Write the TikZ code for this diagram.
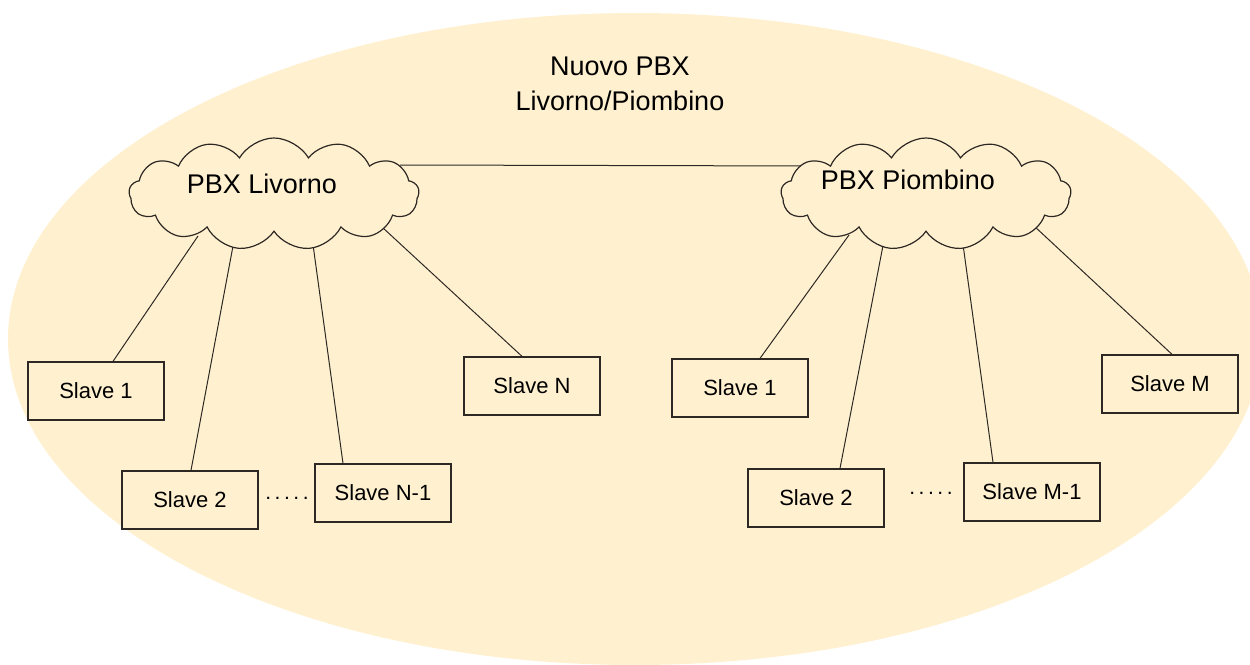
\documentclass[tikz,border=0pt]{standalone}
\usepackage{fontspec}
\setmainfont{Liberation Sans}
\usetikzlibrary{shapes.symbols}
\definecolor{bgfill}{RGB}{255,241,208}
\definecolor{ink}{RGB}{45,40,35}
\pgfdeclarelayer{bg}
\pgfdeclarelayer{wires}
\pgfsetlayers{bg,wires,main}
\begin{document}
\begin{tikzpicture}[x=1pt,y=-1pt,
  slavebox/.style={draw=ink, line width=1.3pt, fill=bgfill, minimum width=136pt, minimum height=58pt, inner sep=0pt, font=\fontsize{22}{24}\selectfont},
  pbxcloud/.style={cloud, cloud puffs=13, cloud puff arc=120, cloud ignores aspect, draw=ink, line width=1.2pt, fill=bgfill, minimum width=290pt, minimum height=112pt, inner sep=0pt},
  cloudtext/.style={font=\fontsize{27}{30}\selectfont},
  wire/.style={draw=ink, line width=1pt},
  dotstext/.style={font=\fontsize{21}{24}\selectfont, inner sep=0pt, anchor=base}]
\useasboundingbox (0,0) rectangle (1250,664);
\clip (0,0) rectangle (1250,664);
\begin{pgfonlayer}{bg}
  \fill[white] (0,0) rectangle (1250,664);
  \fill[bgfill] (635,339) ellipse [x radius=627, y radius=326];
\end{pgfonlayer}

\node[align=center, font=\fontsize{27}{35}\selectfont, inner sep=0pt] (title) at (620,84) {Nuovo PBX\\Livorno/Piombino};

\node[pbxcloud, label={[cloudtext, xshift=-12pt, yshift=10pt]center:PBX Livorno}] (lc) at (274,194) {};
\node[pbxcloud, label={[cloudtext, xshift=-18pt, yshift=14pt]center:PBX Piombino}] (rc) at (926,194) {};

\node[slavebox] (l1) at (96,391) {Slave 1};
\node[slavebox] (l2) at (190,500) {Slave 2};
\node[slavebox] (ln1) at (383,493) {Slave N-1};
\node[slavebox] (ln) at (532,386) {Slave N};
\node[slavebox] (r1) at (740,388) {Slave 1};
\node[slavebox] (r2) at (816,498) {Slave 2};
\node[slavebox] (rm1) at (1032,492) {Slave M-1};
\node[slavebox] (rm) at (1170,384) {Slave M};

\node[dotstext] (ldots) at (287,499) {.\,.\,.\,.\,.};
\node[dotstext] (rdots) at (931,494) {.\,.\,.\,.\,.};

\begin{pgfonlayer}{wires}
  \draw[wire] ([shift={(126,-29)}]lc.center) -- ([shift={(-106,-28)}]rc.center);
  \draw[wire] ([shift={(17,0)}]l1.north) -- ([shift={(-76,42)}]lc.center);
  \draw[wire] ([shift={(1,0)}]l2.north) -- ([shift={(-38,36)}]lc.center);
  \draw[wire] ([shift={(-40,0)}]ln1.north) -- ([shift={(37,36)}]lc.center);
  \draw[wire] ([shift={(-10,0)}]ln.north) -- ([shift={(95,21)}]lc.center);
  \draw[wire] ([shift={(20,0)}]r1.north) -- ([shift={(-77,41)}]rc.center);
  \draw[wire] ([shift={(24,0)}]r2.north) -- ([shift={(-40,36)}]rc.center);
  \draw[wire] ([shift={(-39,0)}]rm1.north) -- ([shift={(35,36)}]rc.center);
  \draw[wire] ([shift={(2,0)}]rm.north) -- ([shift={(93,18)}]rc.center);
\end{pgfonlayer}
\end{tikzpicture}
\end{document}
